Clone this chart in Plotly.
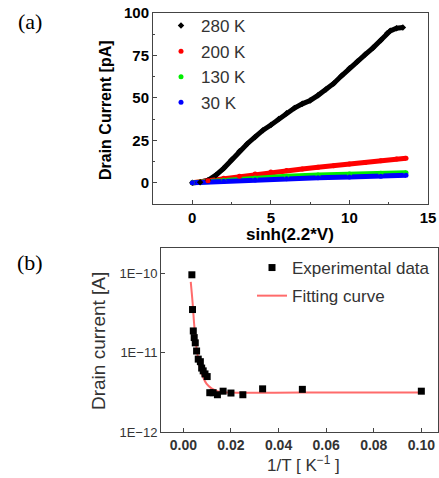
import plotly.graph_objects as go

# ---------------- Panel (a) data ----------------
x_280 = [0.0, 0.5, 1.0, 1.5, 2.0, 2.5, 3.0, 3.5, 4.0, 4.5, 5.0, 5.5, 6.0, 6.5, 7.0, 7.5,
         8.0, 8.5, 9.0, 9.5, 10.0, 10.5, 11.0, 11.5, 12.0, 12.4, 12.6, 13.0, 13.4]
y_280 = [0.0, 0.3, 1.5, 4.5, 8.5, 13.5, 18.5, 23.0, 27.0, 31.0, 34.0, 37.5, 41.0, 44.0, 46.5, 48.5,
         51.5, 55.0, 58.5, 63.0, 67.5, 71.5, 75.5, 79.5, 84.0, 88.0, 89.5, 91.0, 91.5]
x_200 = [0, 1, 2, 3, 4, 5, 6, 7, 8, 9, 10, 11, 12, 13, 13.6]
y_200 = [0.0, 1.2, 2.6, 3.9, 5.2, 6.3, 7.2, 8.1, 9.1, 10.1, 11.1, 12.0, 13.0, 14.0, 14.5]
x_130 = [0, 2, 4, 6, 8, 10, 12, 13.6]
y_130 = [0.0, 1.5, 2.8, 3.8, 4.6, 5.1, 5.6, 5.9]
x_30 = [0, 2, 4, 6, 8, 10, 12, 13.6]
y_30 = [0.0, 0.9, 1.7, 2.3, 2.9, 3.4, 3.9, 4.4]

series_a = [
    ("280 K", x_280, y_280, "#000000", "diamond"),
    ("200 K", x_200, y_200, "#ff0000", "circle"),
    ("130 K", x_130, y_130, "#00ee00", "circle"),
    ("30 K", x_30, y_30, "#0000ff", "circle"),
]

# ---------------- Panel (b) data ----------------
inv_T = [0.00357, 0.00385, 0.00417, 0.00455, 0.00500, 0.00556, 0.00625, 0.00714, 0.00769,
         0.00833, 0.00909, 0.0100, 0.0111, 0.0125, 0.0143, 0.0167, 0.0200, 0.0250, 0.0333,
         0.0500, 0.1000]
current = [9.6e-11, 3.5e-11, 1.88e-11, 1.55e-11, 1.33e-11, 1.05e-11, 8.3e-12, 7.7e-12, 6.4e-12,
           5.9e-12, 5.4e-12, 5.0e-12, 3.13e-12, 3.13e-12, 2.95e-12, 3.27e-12, 3.1e-12, 2.95e-12,
           3.5e-12, 3.45e-12, 3.27e-12]
fit_x = [0.0031, 0.0039, 0.0045, 0.0055, 0.0069, 0.0083, 0.0097, 0.0118, 0.0146, 0.0223, 0.0500, 0.1000]
fit_y = [7.8e-11, 4.2e-11, 2.35e-11, 1.17e-11, 6.6e-12, 4.9e-12, 4.07e-12, 3.55e-12, 3.24e-12,
         3.13e-12, 3.15e-12, 3.15e-12]

W, H = 439, 478
fig = go.Figure()

for name, xs, ys, col, sym in series_a:
    fig.add_trace(go.Scatter(x=xs, y=ys, mode="lines", line=dict(color=col, width=5),
                             showlegend=False, xaxis="x", yaxis="y", hoverinfo="skip"))
for name, xs, ys, col, sym in series_a:
    fig.add_trace(go.Scatter(x=xs, y=ys, mode="markers", name=name, legendgroup=name,
                             marker=dict(color=col, size=5, symbol=sym),
                             xaxis="x", yaxis="y", legend="legend"))

fig.add_trace(go.Scatter(x=fit_x, y=fit_y, mode="lines", name="Fitting curve", legendgroup="fit",
                         line=dict(color="#ff6b6b", width=2, shape="spline"),
                         xaxis="x2", yaxis="y2", legend="legend2", legendrank=2))
fig.add_trace(go.Scatter(x=inv_T, y=current, mode="markers", name="Experimental data",
                         legendgroup="exp",
                         marker=dict(color="#000000", size=7, symbol="square"),
                         xaxis="x2", yaxis="y2", legend="legend2", legendrank=1))

def px_x(p):
    return p / W

def px_y(p):
    return 1 - p / H

axis_common = dict(showgrid=False, zeroline=False, showline=True, mirror=True,
                   linecolor="#444444", linewidth=1, ticks="inside", ticklen=4,
                   tickcolor="#444444", automargin=False)

def ann(text, x, y, size, color="#000000", weight="normal", angle=0, family=None):
    f = dict(size=size, color=color, weight=weight)
    if family:
        f["family"] = family
    return dict(text=text, x=px_x(x), y=px_y(y), xref="paper", yref="paper",
                xanchor="center", yanchor="middle", showarrow=False, textangle=angle, font=f)

serif = "Liberation Serif, DejaVu Serif, serif"

fig.update_layout(
    width=W, height=H,
    margin=dict(l=0, r=0, t=0, b=0),
    paper_bgcolor="white", plot_bgcolor="white",
    font=dict(family="Liberation Sans, Arial, sans-serif", color="#000000"),
    xaxis=dict(domain=[px_x(153), px_x(428)], range=[-2.5, 15], anchor="y",
               tickvals=[0, 5, 10, 15],
               tickfont=dict(size=15, weight="bold"),
               minor=dict(ticks="inside", ticklen=2, dtick=2.5, tickcolor="#444444"),
               **axis_common),
    yaxis=dict(domain=[px_y(204), px_y(13)], range=[-12.5, 100], anchor="x",
               tickvals=[0, 25, 50, 75, 100],
               tickfont=dict(size=15, weight="bold"),
               minor=dict(ticks="inside", ticklen=2, dtick=12.5, tickcolor="#444444"),
               **axis_common),
    xaxis2=dict(domain=[px_x(161), px_x(438)], range=[-0.0094, 0.107], anchor="y2",
                tickvals=[0, 0.02, 0.04, 0.06, 0.08, 0.10], tickformat=".2f",
                tickfont=dict(size=14, color="#333333", weight="bold"),
                **axis_common),
    yaxis2=dict(domain=[px_y(432), px_y(248)], type="log", range=[-12, -9.68], anchor="x2",
                tickvals=[1e-12, 1e-11, 1e-10], ticktext=["1E\u221212", "1E\u221211", "1E\u221210"],
                tickfont=dict(size=13, color="#333333"),
                **axis_common),
    legend=dict(x=px_x(161), y=px_y(8), xanchor="left", yanchor="top",
                bgcolor="rgba(0,0,0,0)", borderwidth=0, tracegroupgap=0.5,
                font=dict(size=17, color="#333333")),
    legend2=dict(x=px_x(252), y=px_y(250), xanchor="left", yanchor="top",
                 bgcolor="rgba(0,0,0,0)", borderwidth=0, tracegroupgap=3,
                 font=dict(size=17, color="#333333")),
    annotations=[
        ann("(a)", 30, 22, 22, family=serif),
        ann("(b)", 30, 262, 22, family=serif),
        ann("Drain Current [pA]", 105, 110, 16, weight="bold", angle=-90),
        ann("sinh(2.2*V)", 290, 234, 17, weight="bold"),
        ann("Drain current [A]", 98, 341, 19, color="#333333", angle=-90),
        ann("1/T [ K<sup>\u22121</sup> ]", 303, 464, 17, color="#333333"),
    ],
)

fig.write_html("out.html", config={"displayModeBar": False},
               post_script="document.body.style.margin='0px';")
